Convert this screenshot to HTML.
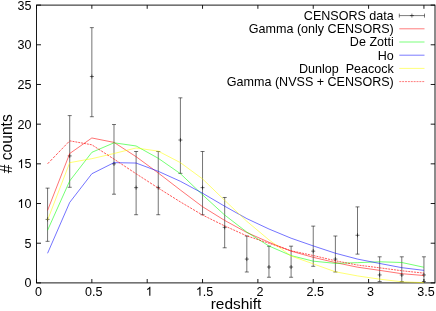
<!DOCTYPE html>
<html><head><meta charset="utf-8"><title>redshift counts</title>
<style>html,body{margin:0;padding:0;background:#fff;}body{width:436px;height:311px;overflow:hidden;font-family:"Liberation Sans",sans-serif;}</style>
</head><body>
<svg width="436" height="311" viewBox="0 0 436 311" style="display:block;will-change:transform">
<rect width="436" height="311" fill="#fff"/>
<g stroke="#000" stroke-width="0.9" fill="none">
<rect x="36.5" y="5.1" width="398.50" height="277.80"/>
<path d="M36.50 282.9v-3.9M36.50 5.1v3.7"/>
<path d="M91.85 282.9v-3.9M91.85 5.1v3.7"/>
<path d="M147.19 282.9v-3.9M147.19 5.1v3.7"/>
<path d="M202.54 282.9v-3.9M202.54 5.1v3.7"/>
<path d="M257.89 282.9v-3.9M257.89 5.1v3.7"/>
<path d="M313.24 282.9v-3.9M313.24 5.1v3.7"/>
<path d="M368.58 282.9v-3.9M368.58 5.1v3.7"/>
<path d="M423.93 282.9v-3.9M423.93 5.1v3.7"/>
<path d="M36.5 282.90h4.5M435.0 282.90h-4.3"/>
<path d="M36.5 243.21h4.5M435.0 243.21h-4.3"/>
<path d="M36.5 203.53h4.5M435.0 203.53h-4.3"/>
<path d="M36.5 163.84h4.5M435.0 163.84h-4.3"/>
<path d="M36.5 124.16h4.5M435.0 124.16h-4.3"/>
<path d="M36.5 84.47h4.5M435.0 84.47h-4.3"/>
<path d="M36.5 44.79h4.5M435.0 44.79h-4.3"/>
<path d="M36.5 5.10h4.5M435.0 5.10h-4.3"/>
</g>
<g stroke="#000" stroke-width="0.55" fill="none">
<path d="M47.57 188.14V241.34M45.57 188.14h4.0M45.57 241.34h4.0M45.57 219.40h4.0M47.57 217.40v4.0"/>
<path d="M69.71 115.60V187.29M67.71 115.60h4.0M67.71 187.29h4.0M67.71 155.91h4.0M69.71 153.91v4.0"/>
<path d="M91.85 27.64V116.72M89.85 27.64h4.0M89.85 116.72h4.0M89.85 76.53h4.0M91.85 74.53v4.0"/>
<path d="M113.99 124.52V194.21M111.99 124.52h4.0M111.99 194.21h4.0M111.99 163.84h4.0M113.99 161.84v4.0"/>
<path d="M136.12 151.51V214.73M134.12 151.51h4.0M134.12 214.73h4.0M134.12 187.65h4.0M136.12 185.65v4.0"/>
<path d="M158.26 151.51V214.73M156.26 151.51h4.0M156.26 214.73h4.0M156.26 187.65h4.0M158.26 185.65v4.0"/>
<path d="M180.40 97.83V173.36M178.40 97.83h4.0M178.40 173.36h4.0M178.40 140.03h4.0M180.40 138.03v4.0"/>
<path d="M202.54 151.51V214.73M200.54 151.51h4.0M200.54 214.73h4.0M200.54 187.65h4.0M202.54 185.65v4.0"/>
<path d="M224.68 197.47V247.79M222.68 197.47h4.0M222.68 247.79h4.0M222.68 227.34h4.0M224.68 225.34v4.0"/>
<path d="M246.82 236.00V272.01M244.82 236.00h4.0M244.82 272.01h4.0M244.82 259.09h4.0M246.82 257.09v4.0"/>
<path d="M268.96 246.17V277.25M266.96 246.17h4.0M266.96 277.25h4.0M266.96 267.03h4.0M268.96 265.03v4.0"/>
<path d="M291.10 246.17V277.25M289.10 246.17h4.0M289.10 277.25h4.0M289.10 267.03h4.0M291.10 265.03v4.0"/>
<path d="M313.24 226.12V266.30M311.24 226.12h4.0M311.24 266.30h4.0M311.24 251.15h4.0M313.24 249.15v4.0"/>
<path d="M335.38 236.00V272.01M333.38 236.00h4.0M333.38 272.01h4.0M333.38 259.09h4.0M335.38 257.09v4.0"/>
<path d="M357.51 206.89V254.13M355.51 206.89h4.0M355.51 254.13h4.0M355.51 235.28h4.0M357.51 233.28v4.0"/>
<path d="M379.65 256.81V281.54M377.65 256.81h4.0M377.65 281.54h4.0M377.65 274.96h4.0M379.65 272.96v4.0"/>
<path d="M401.79 256.81V281.54M399.79 256.81h4.0M399.79 281.54h4.0M399.79 274.96h4.0M401.79 272.96v4.0"/>
<path d="M423.93 256.81V281.54M421.93 256.81h4.0M421.93 281.54h4.0M421.93 274.96h4.0M423.93 272.96v4.0"/>
</g>
<polyline points="47.57,210.43 69.71,153.52 91.85,137.97 113.99,142.41 136.12,156.70 158.26,172.97 180.40,190.04 202.54,206.70 224.68,220.43 246.82,232.50 268.96,242.26 291.10,251.15 313.24,257.34 335.38,262.58 357.51,267.18 379.65,270.36 401.79,273.69 423.93,275.52" fill="none" stroke="#ff0000" stroke-width="0.55"/>
<polyline points="47.57,230.28 69.71,180.91 91.85,152.33 113.99,142.81 136.12,145.98 158.26,158.29 180.40,173.68 202.54,194.80 224.68,215.04 246.82,232.10 268.96,245.99 291.10,255.60 313.24,261.15 335.38,263.37 357.51,262.66 379.65,261.79 401.79,262.50 423.93,267.26" fill="none" stroke="#00ff00" stroke-width="0.55"/>
<polyline points="47.57,253.29 69.71,202.42 91.85,173.76 113.99,162.65 136.12,163.05 158.26,171.30 180.40,181.30 202.54,193.21 224.68,206.23 246.82,218.61 268.96,229.01 291.10,238.21 313.24,245.91 335.38,253.22 357.51,259.09 379.65,263.45 401.79,267.66 423.93,270.36" fill="none" stroke="#0000ff" stroke-width="0.55"/>
<polyline points="47.57,220.20 69.71,162.65 91.85,158.68 113.99,153.52 136.12,147.97 158.26,151.14 180.40,162.65 202.54,178.92 224.68,200.35 246.82,221.31 268.96,239.88 291.10,255.99 313.24,263.85 335.38,271.79 357.51,275.92 379.65,279.17 401.79,281.79 423.93,282.66" fill="none" stroke="#ffff00" stroke-width="0.55"/>
<path d="M47.57 163.84L49.44 161.89M50.33 160.97L52.21 159.02M53.09 158.10L54.97 156.15M55.85 155.23L57.73 153.28M58.61 152.36L60.49 150.41M61.37 149.49L63.25 147.54M64.13 146.62L66.01 144.67M66.89 143.75L68.77 141.80M69.65 140.88L69.71 140.83M69.71 140.83L71.60 141.16M72.52 141.33L74.47 141.68M75.39 141.84L77.34 142.19M78.26 142.36L80.21 142.71M81.13 142.87L83.08 143.22M84.00 143.39L85.95 143.74M86.87 143.90L88.82 144.25M89.74 144.42L91.69 144.77M92.61 145.29L94.56 146.54M95.48 147.14L97.43 148.40M98.35 148.99L100.30 150.25M101.22 150.84L103.17 152.10M104.09 152.69L106.04 153.95M106.96 154.55L108.91 155.81M109.83 156.40L111.78 157.66M112.70 158.25L113.99 159.08M113.99 159.08L114.65 159.52M115.57 160.13L117.52 161.42M118.44 162.04L120.39 163.33M121.31 163.94L123.26 165.23M124.18 165.84L126.13 167.14M127.05 167.75L129.00 169.04M129.92 169.65L131.87 170.94M132.79 171.55L134.74 172.85M135.66 173.46L136.12 173.76M136.12 173.76L137.61 174.72M138.53 175.32L140.48 176.58M141.40 177.17L143.35 178.43M144.27 179.02L146.22 180.28M147.14 180.87L149.09 182.13M150.01 182.73L151.96 183.98M152.88 184.58L154.83 185.84M155.75 186.43L157.70 187.69M158.62 188.27L160.57 189.50M161.49 190.08L163.44 191.30M164.36 191.88L166.31 193.10M167.23 193.68L169.18 194.90M170.10 195.48L172.05 196.70M172.97 197.28L174.92 198.50M175.84 199.08L177.79 200.30M178.71 200.88L180.40 201.94M180.40 201.94L180.66 202.09M181.58 202.64L183.53 203.79M184.45 204.34L186.40 205.49M187.32 206.03L189.27 207.19M190.19 207.73L192.14 208.88M193.06 209.43L195.01 210.58M195.93 211.13L197.88 212.28M198.80 212.82L200.75 213.98M201.67 214.52L202.54 215.04M202.54 215.04L203.62 215.57M204.54 216.02L206.49 216.98M207.41 217.43L209.36 218.39M210.28 218.84L212.23 219.80M213.15 220.25L215.10 221.21M216.02 221.66L217.97 222.62M218.89 223.07L220.84 224.03M221.76 224.48L223.71 225.43M224.63 225.89L224.68 225.91M224.68 225.91L226.58 226.77M227.50 227.19L229.45 228.07M230.37 228.48L232.32 229.36M233.24 229.78L235.19 230.66M236.11 231.07L238.06 231.96M238.98 232.37L240.93 233.25M241.85 233.67L243.80 234.55M244.72 234.96L246.67 235.84M247.59 236.17L249.54 236.81M250.46 237.11L252.41 237.76M253.33 238.06L255.28 238.70M256.20 239.01L258.15 239.65M259.07 239.95L261.02 240.60M261.94 240.90L263.89 241.54M264.81 241.85L266.76 242.49M267.68 242.79L268.96 243.21M268.96 243.21L269.63 243.44M270.55 243.76L272.50 244.42M273.42 244.73L275.37 245.40M276.29 245.71L278.24 246.38M279.16 246.69L281.11 247.35M282.03 247.67L283.98 248.33M284.90 248.64L286.85 249.31M287.77 249.62L289.72 250.29M290.64 250.60L291.10 250.75M291.10 250.75L292.59 251.08M293.51 251.27L295.46 251.69M296.38 251.89L298.33 252.31M299.25 252.51L301.20 252.93M302.12 253.13L304.07 253.55M304.99 253.74L306.94 254.16M307.86 254.36L309.81 254.78M310.73 254.98L312.68 255.40M313.60 255.60L315.55 256.06M316.47 256.28L318.42 256.74M319.34 256.96L321.29 257.42M322.21 257.64L324.16 258.10M325.08 258.32L327.03 258.78M327.95 259.00L329.90 259.46M330.82 259.68L332.77 260.14M333.69 260.36L335.38 260.76M335.38 260.76L335.64 260.81M336.56 260.98L338.51 261.36M339.43 261.54L341.38 261.92M342.30 262.10L344.25 262.47M345.17 262.65L347.12 263.03M348.04 263.21L349.99 263.58M350.91 263.76L352.86 264.14M353.78 264.32L355.73 264.70M356.65 264.87L357.51 265.04M357.51 265.04L358.60 265.18M359.52 265.29L361.47 265.54M362.39 265.65L364.34 265.90M365.26 266.01L367.21 266.26M368.13 266.37L370.08 266.62M371.00 266.73L372.95 266.98M373.87 267.09L375.82 267.34M376.74 267.45L378.69 267.70M379.61 267.81L379.65 267.82M379.65 267.82L381.56 268.07M382.48 268.19L384.43 268.45M385.35 268.58L387.30 268.83M388.22 268.96L390.17 269.21M391.09 269.34L393.04 269.60M393.96 269.72L395.91 269.98M396.83 270.10L398.78 270.36M399.70 270.48L401.65 270.74M402.57 270.84L404.52 271.05M405.44 271.15L407.39 271.36M408.31 271.46L410.26 271.67M411.18 271.77L413.13 271.98M414.05 272.07L416.00 272.28M416.92 272.38L418.87 272.59M419.79 272.69L421.74 272.90M422.66 273.00L423.93 273.14" fill="none" stroke="#ff0000" stroke-width="0.65"/>
<g font-family="Liberation Sans, sans-serif" font-size="12.55" fill="#000" text-anchor="end">
<text x="393.8" y="20.00" xml:space="preserve">CENSORS data</text>
<text x="393.8" y="33.20" xml:space="preserve">Gamma (only CENSORS)</text>
<text x="393.8" y="46.40" xml:space="preserve">De Zotti</text>
<text x="393.8" y="59.60" xml:space="preserve">Ho</text>
<text x="393.8" y="72.80" xml:space="preserve">Dunlop  Peacock</text>
<text x="393.8" y="86.00" xml:space="preserve">Gamma (NVSS + CENSORS)</text>
<text x="31.4" y="287.30">0</text>
<text x="31.4" y="247.61">5</text>
<text x="31.4" y="207.93">0</text>
<path transform="translate(17.44 207.93) scale(0.006128 -0.006128)" d="M763 0L583 0L583 1147Q518 1085 412.5 1023Q307 961 223 930L223 1104Q374 1175 487 1276Q600 1377 647 1472L763 1472Z" fill="#000" stroke="none"/>
<text x="31.4" y="168.24">5</text>
<path transform="translate(17.44 168.24) scale(0.006128 -0.006128)" d="M763 0L583 0L583 1147Q518 1085 412.5 1023Q307 961 223 930L223 1104Q374 1175 487 1276Q600 1377 647 1472L763 1472Z" fill="#000" stroke="none"/>
<text x="31.4" y="128.56">20</text>
<text x="31.4" y="88.87">25</text>
<text x="31.4" y="49.19">30</text>
<text x="31.4" y="9.50">35</text>
</g>
<g font-family="Liberation Sans, sans-serif" font-size="12.55" fill="#000" text-anchor="middle">
<text x="38.50" y="295.7">0</text>
<text x="93.85" y="295.7">0.5</text>
<path transform="translate(145.70 295.70) scale(0.006128 -0.006128)" d="M763 0L583 0L583 1147Q518 1085 412.5 1023Q307 961 223 930L223 1104Q374 1175 487 1276Q600 1377 647 1472L763 1472Z" fill="#000" stroke="none"/>
<path transform="translate(195.82 295.70) scale(0.006128 -0.006128)" d="M763 0L583 0L583 1147Q518 1085 412.5 1023Q307 961 223 930L223 1104Q374 1175 487 1276Q600 1377 647 1472L763 1472Z" fill="#000" stroke="none"/>
<text x="202.80" y="295.7" text-anchor="start">.5</text>
<text x="259.89" y="295.7">2</text>
<text x="315.24" y="295.7">2.5</text>
<text x="370.58" y="295.7">3</text>
<text x="425.93" y="295.7">3.5</text>
</g>
<g font-family="Liberation Sans, sans-serif" font-size="15.6" fill="#000" text-anchor="middle">
<text transform="translate(236 309.4) scale(1.03 1)" font-size="15">redshift</text>
<text transform="translate(11.5 143.8) rotate(-90)">#&#160;counts</text>
</g>
<g stroke-width="0.52" fill="none">
<path stroke="#000" d="M399.3 15.6H424.5M399.3 13.6v4.0M424.5 13.6v4.0M409.90 15.6h4.0M411.90 13.6v4.0"/>
<path stroke="#ff0000" d="M399.3 28.8H424.5"/>
<path stroke="#00ff00" d="M399.3 42.0H424.5"/>
<path stroke="#0000ff" d="M399.3 55.2H424.5"/>
<path stroke="#ffff00" d="M399.3 68.4H424.5"/>
<path stroke="#ff0000" d="M399.30 81.60L401.25 81.60M402.17 81.60L404.12 81.60M405.04 81.60L406.99 81.60M407.91 81.60L409.86 81.60M410.78 81.60L412.73 81.60M413.65 81.60L415.60 81.60M416.52 81.60L418.47 81.60M419.39 81.60L421.34 81.60M422.26 81.60L424.21 81.60"/>
</g>
</svg>
</body></html>
